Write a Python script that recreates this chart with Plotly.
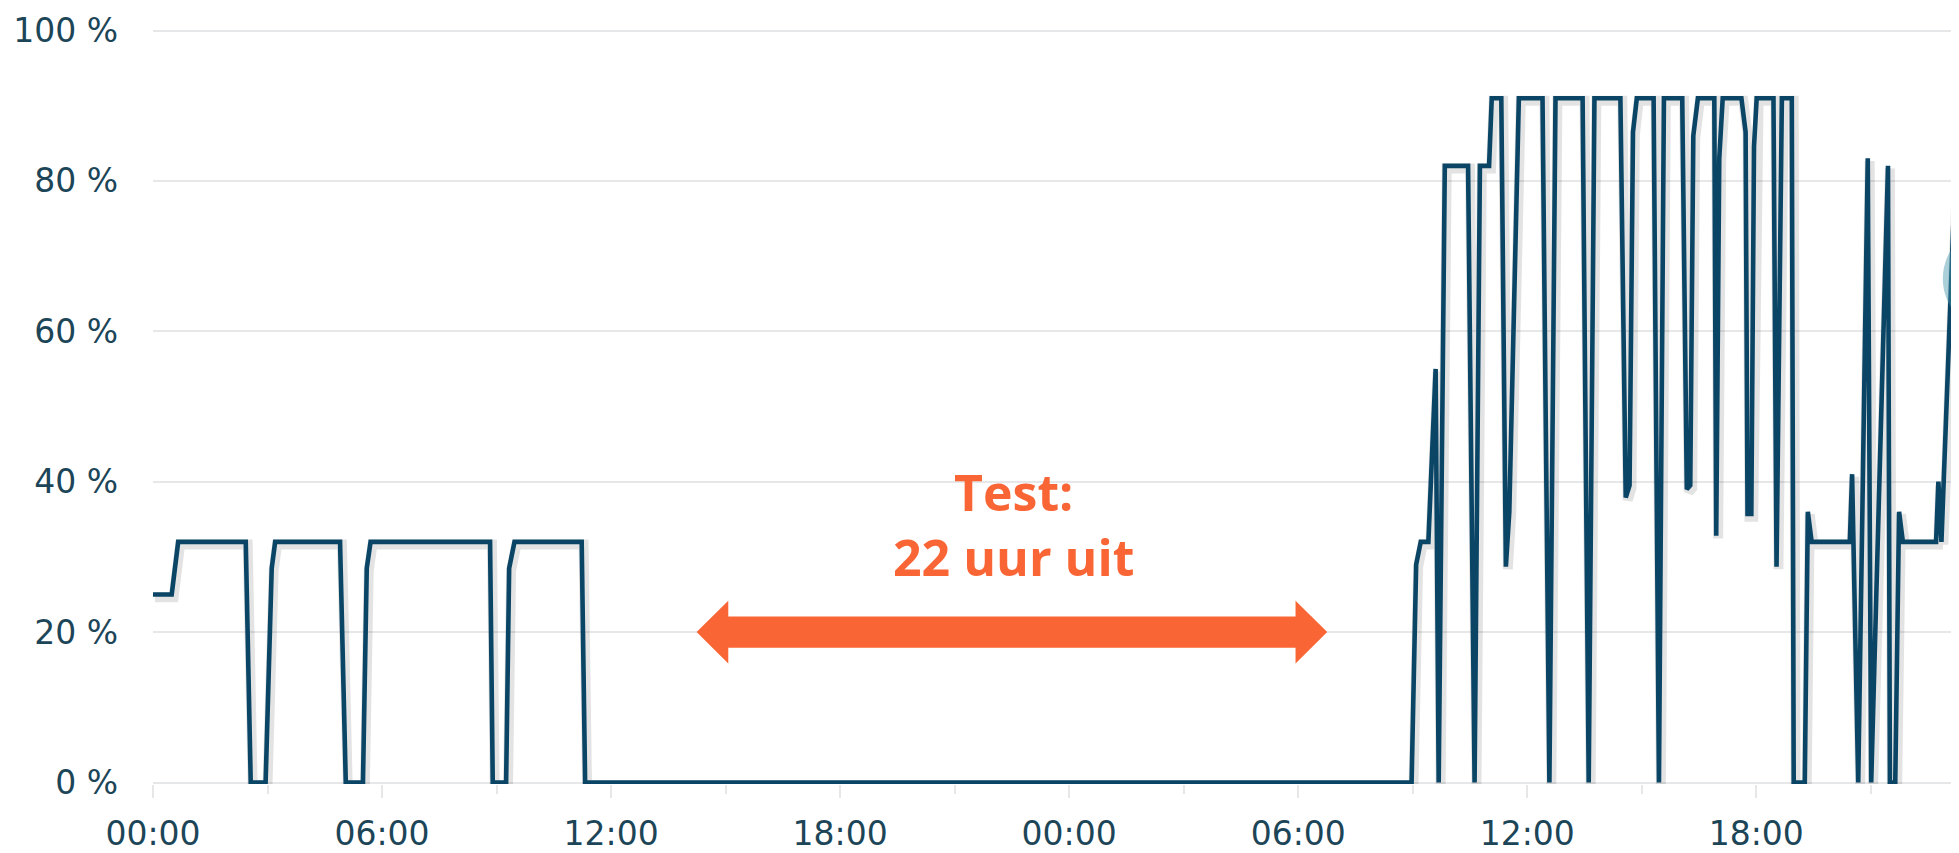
import plotly.graph_objects as go

# ---- data: hours since 00:00 on day 1, and percentage ----
hours = [0, 0.49, 0.66, 2.43, 2.56, 2.95, 3.11, 3.2, 4.9, 5.05, 5.5, 5.6, 5.7,
         8.83, 8.9, 9.25, 9.33, 9.47, 11.23, 11.32,
         32.97, 33.09, 33.21, 33.41, 33.60, 33.68, 33.84, 34.45, 34.62, 34.76,
         35.0, 35.07, 35.32, 35.44, 35.53, 35.78, 36.4, 36.58, 36.74, 37.45,
         37.61, 37.76, 38.44, 38.58, 38.68, 38.77, 38.87, 39.31, 39.45, 39.58,
         40.06, 40.18, 40.27, 40.35, 40.47, 40.9, 40.95, 41.03, 41.12, 41.61,
         41.72, 41.77, 41.87, 41.94, 42.01, 42.45, 42.53, 42.67, 42.93, 42.98,
         43.27, 43.35, 43.45, 44.45, 44.51, 44.67, 44.92, 45.01, 45.45, 45.5,
         45.64, 45.74, 45.84, 46.71, 46.77, 46.85, 47.24, 47.45]
power_pct = [25, 25, 32, 32, 0, 0, 28.5, 32, 32, 0, 0, 28.5, 32,
             32, 0, 0, 28.5, 32, 32, 0,
             0, 29, 32, 32, 55, 0, 82, 82, 0, 82,
             82, 91, 91, 28.7, 36, 91, 91, 0, 91, 91,
             0, 91, 91, 37.9, 39.5, 86.5, 91, 91, 0, 91,
             91, 39, 39.5, 86, 91, 91, 32.8, 83, 91, 91,
             86.5, 35.7, 35.7, 84.6, 91, 91, 28.7, 91, 91, 0,
             0, 36, 32, 32, 41, 0, 83, 0, 82, 0,
             0, 36, 32, 32, 40, 32, 85, 45]

tick_hours = [0, 6, 12, 18, 24, 30, 36, 42]
tick_labels = ["00:00", "06:00", "12:00", "18:00", "00:00", "06:00", "12:00", "18:00"]
y_ticks = [0, 20, 40, 60, 80, 100]
y_tick_labels = ["0 %", "20 %", "40 %", "60 %", "80 %", "100 %"]

hover_point_hour = 48.3
hover_point_pct = 67

annotation_text = "<b>Test:<br>22 uur uit</b>"
annotation_hour = 22.53
annotation_pct = 34.3
arrow_start_hour = 14.24
arrow_end_hour = 30.76
arrow_level_pct = 20

X_MAX = 47.31
LINE = "#0a4566"
TEXT = "#1c4558"
ORANGE = "#FA6535"
GRID = "#e5e7e9"

fig = go.Figure()

# soft shadow under the line
fig.add_trace(go.Scatter(
    x=[h + 0.05 for h in hours], y=[v - 0.35 for v in power_pct],
    mode="lines", line=dict(color="rgba(0,0,0,0.11)", width=10),
    hoverinfo="skip", showlegend=False))
fig.add_trace(go.Scatter(
    x=hours, y=power_pct, mode="lines",
    line=dict(color=LINE, width=4.6), showlegend=False))

# hover highlight circle (partly outside the visible area)
fig.add_shape(type="circle", xref="x", yref="y",
              xsizemode="pixel", ysizemode="pixel",
              xanchor=hover_point_hour, yanchor=hover_point_pct,
              x0=-54, x1=54, y0=-54, y1=54,
              fillcolor="rgba(70,150,170,0.45)", line=dict(width=0), layer="above")

# double-headed arrow as a filled path (hours / percent units)
head_len = 0.83
head_half = 4.16
shaft_half = 2.09
a0, a1, yl = arrow_start_hour, arrow_end_hour, arrow_level_pct
path = (f"M{a0},{yl} L{a0+head_len},{yl+head_half} L{a0+head_len},{yl+shaft_half} "
        f"L{a1-head_len},{yl+shaft_half} L{a1-head_len},{yl+head_half} L{a1},{yl} "
        f"L{a1-head_len},{yl-head_half} L{a1-head_len},{yl-shaft_half} "
        f"L{a0+head_len},{yl-shaft_half} L{a0+head_len},{yl-head_half} Z")
fig.add_shape(type="path", path=path, xref="x", yref="y",
              fillcolor=ORANGE, line=dict(width=0), layer="above")

fig.add_annotation(x=annotation_hour, y=annotation_pct, xref="x", yref="y",
                   text=annotation_text, showarrow=False,
                   font=dict(family="Open Sans", size=50, color=ORANGE),
                   xanchor="center", yanchor="middle")

# page body has an 8px margin: figure is 1951x845 so that it fills 1959x853
fig.update_layout(
    width=1951, height=845,
    margin=dict(l=145, r=0, t=20.5, b=64.5),
    paper_bgcolor="white", plot_bgcolor="white",
    font=dict(family="DejaVu Sans", size=33, color=TEXT),
    showlegend=False,
)
fig.update_xaxes(
    range=[0, X_MAX], tickvals=tick_hours, ticktext=tick_labels,
    showgrid=False, zeroline=False, showline=False,
    ticks="outside", ticklen=13, tickwidth=2, tickcolor=GRID,
    minor=dict(dtick=3, tick0=0, ticks="outside", ticklen=9, tickwidth=2, tickcolor=GRID, showgrid=False),
    ticklabelstandoff=7,
    tickfont=dict(family="DejaVu Sans", size=33, color=TEXT),
)
fig.update_yaxes(
    range=[-0.2, 100.2], tickvals=y_ticks, ticktext=y_tick_labels,
    showgrid=True, gridcolor=GRID, gridwidth=2,
    zeroline=False, showline=False, ticks="",
    ticklabelstandoff=34,
    tickfont=dict(family="DejaVu Sans", size=33, color=TEXT),
)

fig.write_html("out.html")
